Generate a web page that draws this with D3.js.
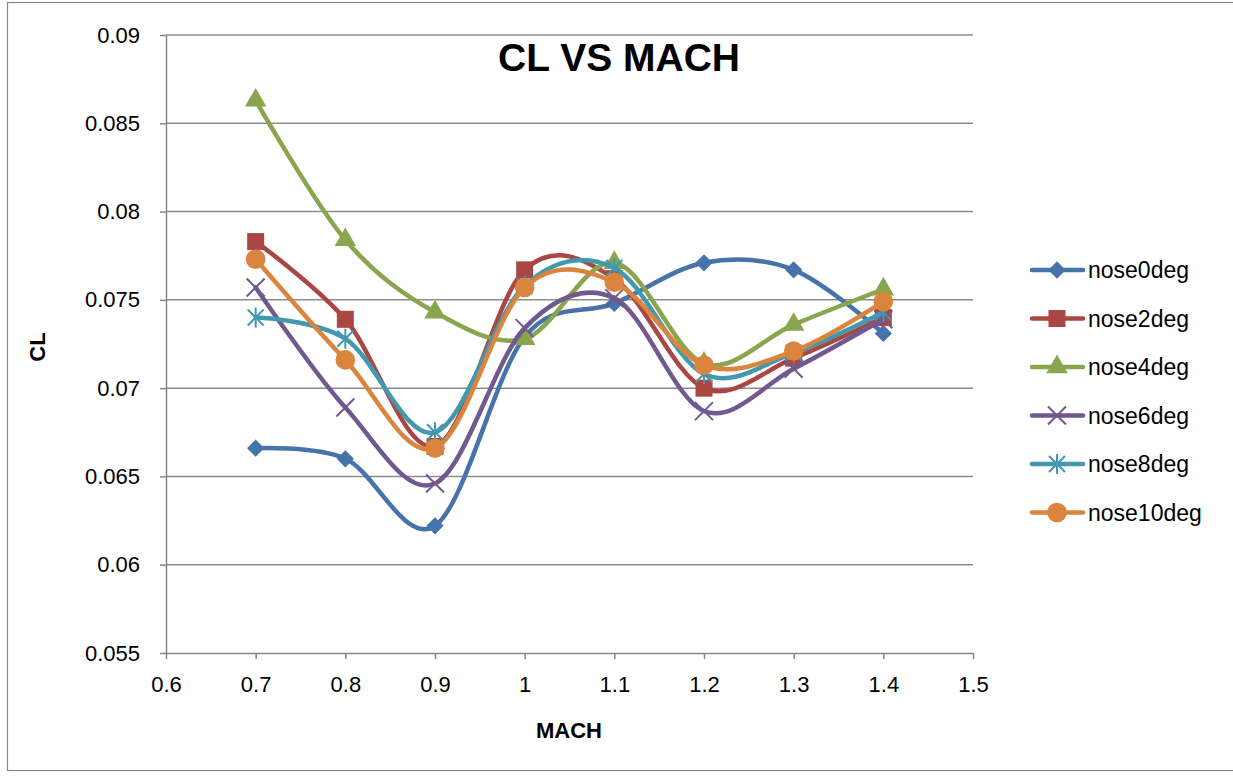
<!DOCTYPE html>
<html>
<head>
<meta charset="utf-8">
<script src="https://cdn.jsdelivr.net/npm/d3@7"></script>
<style>
  html, body { margin: 0; padding: 0; background: #fff; }
  svg { display: block; }
  text { font-family: "Liberation Sans", Arial, sans-serif; fill: #000; }
</style>
</head>
<body>
<svg id="chart" width="1233" height="776"></svg>
<script>
// Lift coefficient vs Mach number for several nose deflection angles
const mach = [0.7, 0.8, 0.9, 1.0, 1.1, 1.2, 1.3, 1.4];
const nose0deg  = [0.0666, 0.0660, 0.0622, 0.0729, 0.0748, 0.0771, 0.0767, 0.0731];
const nose2deg  = [0.0783, 0.0739, 0.0667, 0.0767, 0.0762, 0.0700, 0.0717, 0.0740];
const nose4deg  = [0.0863, 0.0784, 0.0743, 0.0728, 0.0771, 0.0714, 0.0736, 0.0756];
const nose6deg  = [0.0757, 0.0689, 0.0646, 0.0734, 0.0751, 0.0687, 0.0711, 0.0739];
const nose8deg  = [0.0740, 0.0728, 0.0675, 0.0758, 0.0768, 0.0708, 0.0720, 0.0743];
const nose10deg = [0.0773, 0.0716, 0.0666, 0.0757, 0.0760, 0.0713, 0.0721, 0.0749];
const seriesNames = ["nose0deg", "nose2deg", "nose4deg", "nose6deg", "nose8deg", "nose10deg"];
const xTicks = [0.6, 0.7, 0.8, 0.9, 1.0, 1.1, 1.2, 1.3, 1.4, 1.5];
const yTicks = [0.055, 0.06, 0.065, 0.07, 0.075, 0.08, 0.085, 0.09];

const seriesValues = [nose0deg, nose2deg, nose4deg, nose6deg, nose8deg, nose10deg];
const colors = ["#4673A9", "#AA4643", "#89A54E", "#71588F", "#4198AF", "#DB843D"];
const markers = ["diamond", "square", "triangle", "cross", "star", "circle"];

const svg = d3.select("#chart");
const plotLeft = 166, plotRight = 973, plotTop = 35, plotBottom = 653;

const x = d3.scaleLinear().domain([0.6, 1.5]).range([plotLeft, plotRight]);
const y = d3.scaleLinear().domain([0.055, 0.09]).range([plotBottom, plotTop]);

// outer chart border
svg.append("rect")
  .attr("x", 7.5).attr("y", 2.5).attr("width", 1240).attr("height", 768)
  .attr("fill", "none").attr("stroke", "#8a8a8a").attr("stroke-width", 1.2);

// horizontal gridlines
svg.append("g").selectAll("line").data(yTicks.slice(1)).join("line")
  .attr("x1", plotLeft).attr("x2", plotRight)
  .attr("y1", d => y(d)).attr("y2", d => y(d))
  .attr("stroke", "#8c8c8c").attr("stroke-width", 1.5);

// y axis
const yAxis = svg.append("g").attr("transform", `translate(${plotLeft},0)`)
  .call(d3.axisLeft(y).tickValues(yTicks).tickSize(6).tickSizeOuter(0).tickPadding(20)
    .tickFormat(d => String(+d.toFixed(3))));
yAxis.select(".domain").attr("stroke", "#868686").attr("stroke-width", 1.5);
yAxis.selectAll(".tick line").attr("stroke", "#868686").attr("stroke-width", 1.5);
yAxis.selectAll(".tick text").attr("font-size", 22).attr("font-family", "Liberation Sans, Arial, sans-serif").attr("fill", "#000");

// x axis
const xAxis = svg.append("g").attr("transform", `translate(0,${plotBottom})`)
  .call(d3.axisBottom(x).tickValues(xTicks).tickSize(6).tickSizeOuter(0).tickPadding(17)
    .tickFormat(d => String(+d.toFixed(1))));
xAxis.select(".domain").attr("stroke", "#868686").attr("stroke-width", 1.5);
xAxis.selectAll(".tick line").attr("stroke", "#868686").attr("stroke-width", 1.5);
xAxis.selectAll(".tick text").attr("font-size", 22).attr("font-family", "Liberation Sans, Arial, sans-serif").attr("fill", "#000");

// titles
svg.append("text").attr("x", 619).attr("y", 71).attr("text-anchor", "middle")
  .attr("font-size", 39).attr("font-weight", "bold").text("CL VS MACH");
svg.append("text").attr("x", 569).attr("y", 738).attr("text-anchor", "middle")
  .attr("font-size", 22).attr("font-weight", "bold").text("MACH");
svg.append("text").attr("transform", "translate(45,347) rotate(-90)").attr("text-anchor", "middle")
  .attr("font-size", 22).attr("font-weight", "bold").text("CL");

// marker drawing
function drawMarker(g, type, color, cx, cy) {
  if (type === "diamond") {
    g.append("path").attr("d", d3.symbol(d3.symbolDiamond2, 190)())
      .attr("transform", `translate(${cx},${cy})`).attr("fill", color);
  } else if (type === "square") {
    g.append("rect").attr("x", cx - 8.5).attr("y", cy - 8.5).attr("width", 17).attr("height", 17)
      .attr("fill", color);
  } else if (type === "triangle") {
    g.append("path").attr("d", d3.symbol(d3.symbolTriangle, 200)())
      .attr("transform", `translate(${cx},${cy})`).attr("fill", color);
  } else if (type === "cross") {
    g.append("path").attr("d", `M${cx-9},${cy-9}L${cx+9},${cy+9}M${cx-9},${cy+9}L${cx+9},${cy-9}`)
      .attr("stroke", color).attr("stroke-width", 2).attr("fill", "none");
  } else if (type === "star") {
    g.append("path").attr("d", `M${cx-8},${cy-8}L${cx+8},${cy+8}M${cx-8},${cy+8}L${cx+8},${cy-8}M${cx},${cy-10}L${cx},${cy+10}`)
      .attr("stroke", color).attr("stroke-width", 2).attr("fill", "none");
  } else if (type === "circle") {
    g.append("circle").attr("cx", cx).attr("cy", cy).attr("r", 9.8).attr("fill", color);
  }
}

const line = d3.line()
  .x((d, i) => x(mach[i]))
  .y(d => y(d))
  .curve(d3.curveCardinal.tension(0));

const plot = svg.append("g");
seriesValues.forEach((vals, s) => {
  const g = plot.append("g");
  g.append("path").datum(vals).attr("d", line)
    .attr("fill", "none").attr("stroke", colors[s]).attr("stroke-width", 4.5)
    .attr("stroke-linecap", "round").attr("stroke-linejoin", "round");
  vals.forEach((v, i) => drawMarker(g, markers[s], colors[s], x(mach[i]), y(v)));
});

// legend
const legend = svg.append("g");
seriesNames.forEach((name, s) => {
  const ly = 270 + s * 48.5;
  const g = legend.append("g");
  g.append("line").attr("x1", 1032).attr("x2", 1083).attr("y1", ly).attr("y2", ly)
    .attr("stroke", colors[s]).attr("stroke-width", 4.5).attr("stroke-linecap", "round");
  drawMarker(g, markers[s], colors[s], 1057, ly);
  g.append("text").attr("x", 1088).attr("y", ly + 8).attr("font-size", 23).text(name);
});
</script>
</body>
</html>
